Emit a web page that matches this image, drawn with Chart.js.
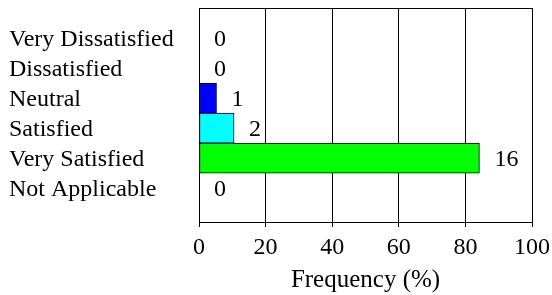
<!DOCTYPE html>
<html>
<head>
<meta charset="utf-8">
<script src="https://cdn.jsdelivr.net/npm/chart.js@4"></script>
<style>
html,body{margin:0;padding:0;background:#fff;}
#wrap{width:552px;height:295px;}
</style>
</head>
<body>
<div id="wrap"><canvas id="c" width="552" height="295"></canvas></div>
<script>
const categories = ["Very Dissatisfied", "Dissatisfied", "Neutral", "Satisfied", "Very Satisfied", "Not Applicable"];
const percentages = [0, 0, 5.26, 10.53, 84.21, 0];
const counts = [0, 0, 1, 2, 16, 0];
const barColors = ["#0000ff", "#0000ff", "#0000ff", "#00ffff", "#00ff00", "#ff0000"];
const xTicks = [0, 20, 40, 60, 80, 100];

const FONT = "'Liberation Serif', 'Times New Roman', serif";

const labelPlugin = {
  id: 'labels',
  afterDatasetsDraw(chart) {
    const ctx = chart.ctx;
    const meta = chart.getDatasetMeta(0);
    ctx.save();
    ctx.font = "24px " + FONT;
    ctx.fillStyle = "#000";
    ctx.textAlign = "left";
    ctx.textBaseline = "middle";
    meta.data.forEach((bar, i) => {
      ctx.fillText(String(counts[i]), bar.x + 15, bar.y + 2);
    });
    ctx.restore();
  },
  afterDraw(chart) {
    const a = chart.chartArea, ctx = chart.ctx;
    ctx.save();
    ctx.strokeStyle = "#000";
    ctx.lineWidth = 1;
    ctx.beginPath();
    ctx.moveTo(a.left, Math.round(a.top) + 0.5);
    ctx.lineTo(a.right, Math.round(a.top) + 0.5);
    ctx.stroke();
    ctx.restore();
  }
};

new Chart(document.getElementById('c'), {
  type: 'bar',
  data: {
    datasets: [{
      data: percentages.map((v, i) => ({x: v, y: i})),
      backgroundColor: barColors,
      borderColor: "#000",
      borderWidth: 1,
      borderSkipped: false,
      barPercentage: 1,
      categoryPercentage: 1
    }]
  },
  options: {
    indexAxis: 'y',
    responsive: false,
    animation: false,
    layout: {padding: {left: 9, right: 20, top: 8, bottom: 0}},
    plugins: {legend: {display: false}, tooltip: {enabled: false}},
    scales: {
      y: {
        type: 'linear',
        reverse: true,
        offset: false,
        min: -1,
        max: 6.13,
        afterBuildTicks(scale) { scale.ticks = categories.map((c, i) => ({value: i})); },
        afterFit(scale) { scale.paddingTop = 0; scale.paddingBottom = 0; scale.width = 190; },
        ticks: {
          callback: (v) => categories[v],
          color: "#000",
          font: {family: FONT, size: 24},
          crossAlign: 'far',
          padding: 14,
          labelOffset: 2
        },
        grid: {display: false, drawTicks: false},
        border: {display: true, color: "#000", width: 1}
      },
      x: {
        type: 'linear',
        min: 0,
        max: 100,
        afterBuildTicks(scale) { scale.ticks = xTicks.map(v => ({value: v})); },
        afterFit(scale) { scale.paddingLeft = 0; scale.paddingRight = 0; scale.height = 73; },
        ticks: {color: "#000", font: {family: FONT, size: 24}, padding: 6, maxRotation: 0},
        grid: {color: "#000", lineWidth: 1, tickLength: 5, drawTicks: true},
        border: {display: true, color: "#000", width: 1},
        title: {display: true, text: "Frequency (%)", color: "#000", font: {family: FONT, size: 25}, padding: {top: 1, bottom: 0}}
      }
    }
  },
  plugins: [labelPlugin]
});
</script>
</body>
</html>
